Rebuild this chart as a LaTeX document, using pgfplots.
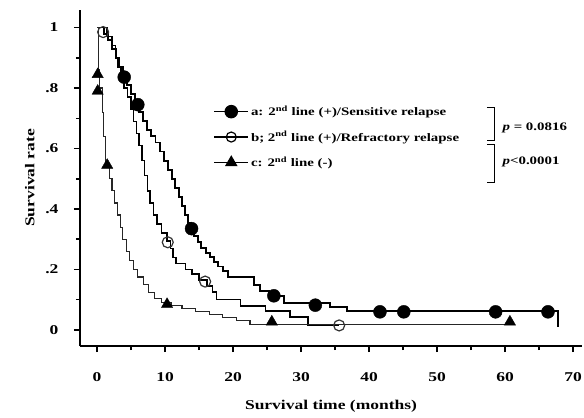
\documentclass[border=0pt]{standalone}
\usepackage{fontspec}
\setmainfont{Liberation Serif}[FakeStretch=1.3]
\usepackage{pgfplots}
\pgfplotsset{compat=1.18}
\begin{document}
\begin{tikzpicture}
\begin{axis}[
  scale only axis,
  width=502bp, height=336bp,
  xmin=-2.5, xmax=71.3, ymin=-0.053, ymax=1.058,
  axis x line*=bottom, axis y line*=left,
  axis line style={line width=2bp,-},
  xtick={0,10,...,70}, minor xtick={5,15,...,65},
  ytick={0,0.2,0.4,0.6,0.8,1}, yticklabels={0,.2,.4,.6,.8,1},
  minor ytick={0.1,0.3,0.5,0.7,0.9},
  tick align=outside,
  major tick length=6bp, minor tick length=4bp,
  every tick/.style={black, line width=1.5bp},
  /pgf/number format/assume math mode=true,
  ticklabel style={font=\bfseries\fontsize{13.5}{15}\selectfont},
  xticklabel style={yshift=-17bp},
  yticklabel style={xshift=-12bp},
  xlabel={Survival time (months)},
  ylabel={Survival rate},
  label style={font=\bfseries\fontsize{13.5}{15}\selectfont},
  xlabel style={at={(axis description cs:0.5,-0.178)}, anchor=center},
  ylabel style={at={(axis description cs:-0.1,0.5)}, anchor=center},
  legend style={draw=none, fill=none, at={(axis cs:17.1,0.748)}, anchor=north west,
    font=\bfseries\fontsize{11.5}{13}\selectfont, row sep=10bp, inner sep=0pt,
    /tikz/every even column/.style={column sep=11bp}},
  legend cell align=left,
  legend image code/.code={\draw[mark repeat=2,mark phase=2,#1] plot coordinates {(0bp,0bp)(17bp,0bp)(34bp,0bp)};},
]
\coordinate (bl) at (rel axis cs:0,0);
\coordinate (tr) at (rel axis cs:1,1);

% a: sensitive relapse
\addplot[const plot, black, line width=1.9bp, forget plot] coordinates {
(0,1) (1.0,0.98) (1.6,0.96) (2.2,0.93) (2.8,0.90) (3.3,0.87) (3.8,0.84) (4.4,0.81)
(5.0,0.78) (5.6,0.75) (6.2,0.72) (6.8,0.69) (7.4,0.66) (8.0,0.64) (8.6,0.62) (9.2,0.59)
(9.8,0.56) (10.4,0.53) (11.0,0.50) (11.5,0.47) (12.0,0.44) (12.5,0.41) (13.0,0.38)
(13.4,0.355) (13.8,0.335) (14.3,0.31) (14.8,0.29) (15.3,0.27) (16.0,0.255) (16.6,0.24)
(17.2,0.225) (17.8,0.21) (18.5,0.195) (19.3,0.176) (23.1,0.15) (24.0,0.13) (25.3,0.113)
(27.5,0.089) (34.3,0.076) (36.8,0.063) (67.8,0.063) (67.8,0.01)
};
% b: refractory relapse
\addplot[const plot, black, line width=1.5bp, forget plot] coordinates {
(0,1) (1.5,0.97) (2.2,0.94) (2.7,0.90) (3.1,0.87) (3.5,0.83) (4.0,0.80) (4.5,0.77)
(5.0,0.73) (5.4,0.69) (5.8,0.65) (6.2,0.61) (6.6,0.56) (7.0,0.51) (7.4,0.46) (7.8,0.42)
(8.3,0.38) (8.8,0.35) (9.5,0.32) (10.3,0.295) (10.8,0.27) (11.2,0.24) (11.6,0.22)
(13.0,0.20) (14.0,0.185) (15.0,0.165) (16.2,0.145) (17.0,0.125) (17.6,0.10) (21.1,0.08)
(24.8,0.062) (28.4,0.043) (31.0,0.017) (35.6,0.017)
};
% c: no second line
\addplot[const plot, black!85, line width=1.2bp, forget plot] coordinates {
(0,1) (0.2,0.86) (0.4,0.80) (0.8,0.72) (1.0,0.64) (1.3,0.55) (1.8,0.50) (2.2,0.46)
(2.6,0.42) (3.0,0.38) (3.4,0.34) (3.8,0.30) (4.3,0.26) (4.8,0.23) (5.4,0.20) (6.0,0.175)
(6.8,0.15) (7.6,0.125) (8.5,0.105) (9.5,0.09) (11.0,0.08) (12.5,0.07) (14.5,0.06)
(16.5,0.05) (18.5,0.04) (20.5,0.03) (22.5,0.017) (60.7,0.017)
};
% censor marks
\addplot[only marks, mark=*, mark size=6.5bp, black, forget plot] coordinates {
(4.0,0.836) (6.0,0.745) (13.9,0.335) (26.0,0.113) (32.1,0.082) (41.6,0.06) (45.1,0.06) (58.6,0.06) (66.3,0.06)
};
\addplot[only marks, mark=o, mark size=5.5bp, black!80, line width=1.2bp, forget plot] coordinates {
(0.9,0.985) (10.4,0.29) (15.9,0.16) (35.6,0.015)
};
\addplot[only marks, mark=triangle*, mark size=6.5bp, black, forget plot] coordinates {
(0.1,0.845) (0.1,0.79) (1.5,0.545) (10.3,0.085) (25.7,0.027) (60.7,0.027)
};

\addlegendimage{black, line width=1.5bp, mark=*, mark size=6bp}
\addlegendimage{black, line width=1.2bp, mark=o, mark size=5bp, mark options={line width=1.2bp}}
\addlegendimage{black, line width=1.2bp, mark=triangle*, mark size=6bp}
\legend{a: 2\textsuperscript{nd} line (+)/Sensitive relapse,
        b; 2\textsuperscript{nd} line (+)/Refractory relapse,
        c: 2\textsuperscript{nd} line (-)}

\draw[line width=1bp] (axis cs:57.3,0.734) -- (axis cs:58.4,0.734) -- (axis cs:58.4,0.628) -- (axis cs:57.3,0.628);
\draw[line width=1bp] (axis cs:57.3,0.612) -- (axis cs:58.4,0.612) -- (axis cs:58.4,0.486) -- (axis cs:57.3,0.486);
\node[anchor=west, inner sep=0pt, font=\bfseries\fontsize{11.5}{13}\selectfont] at (axis cs:59.6,0.668) {\textit{p} = 0.0816};
\node[anchor=west, inner sep=0pt, font=\bfseries\fontsize{11.5}{13}\selectfont] at (axis cs:59.6,0.555) {\textit{p}<0.0001};
\end{axis}
\pgfresetboundingbox
\path[use as bounding box] ([xshift=-80bp,yshift=-72bp]bl) rectangle ([xshift=2bp,yshift=10bp]tr);
\end{tikzpicture}
\end{document}
